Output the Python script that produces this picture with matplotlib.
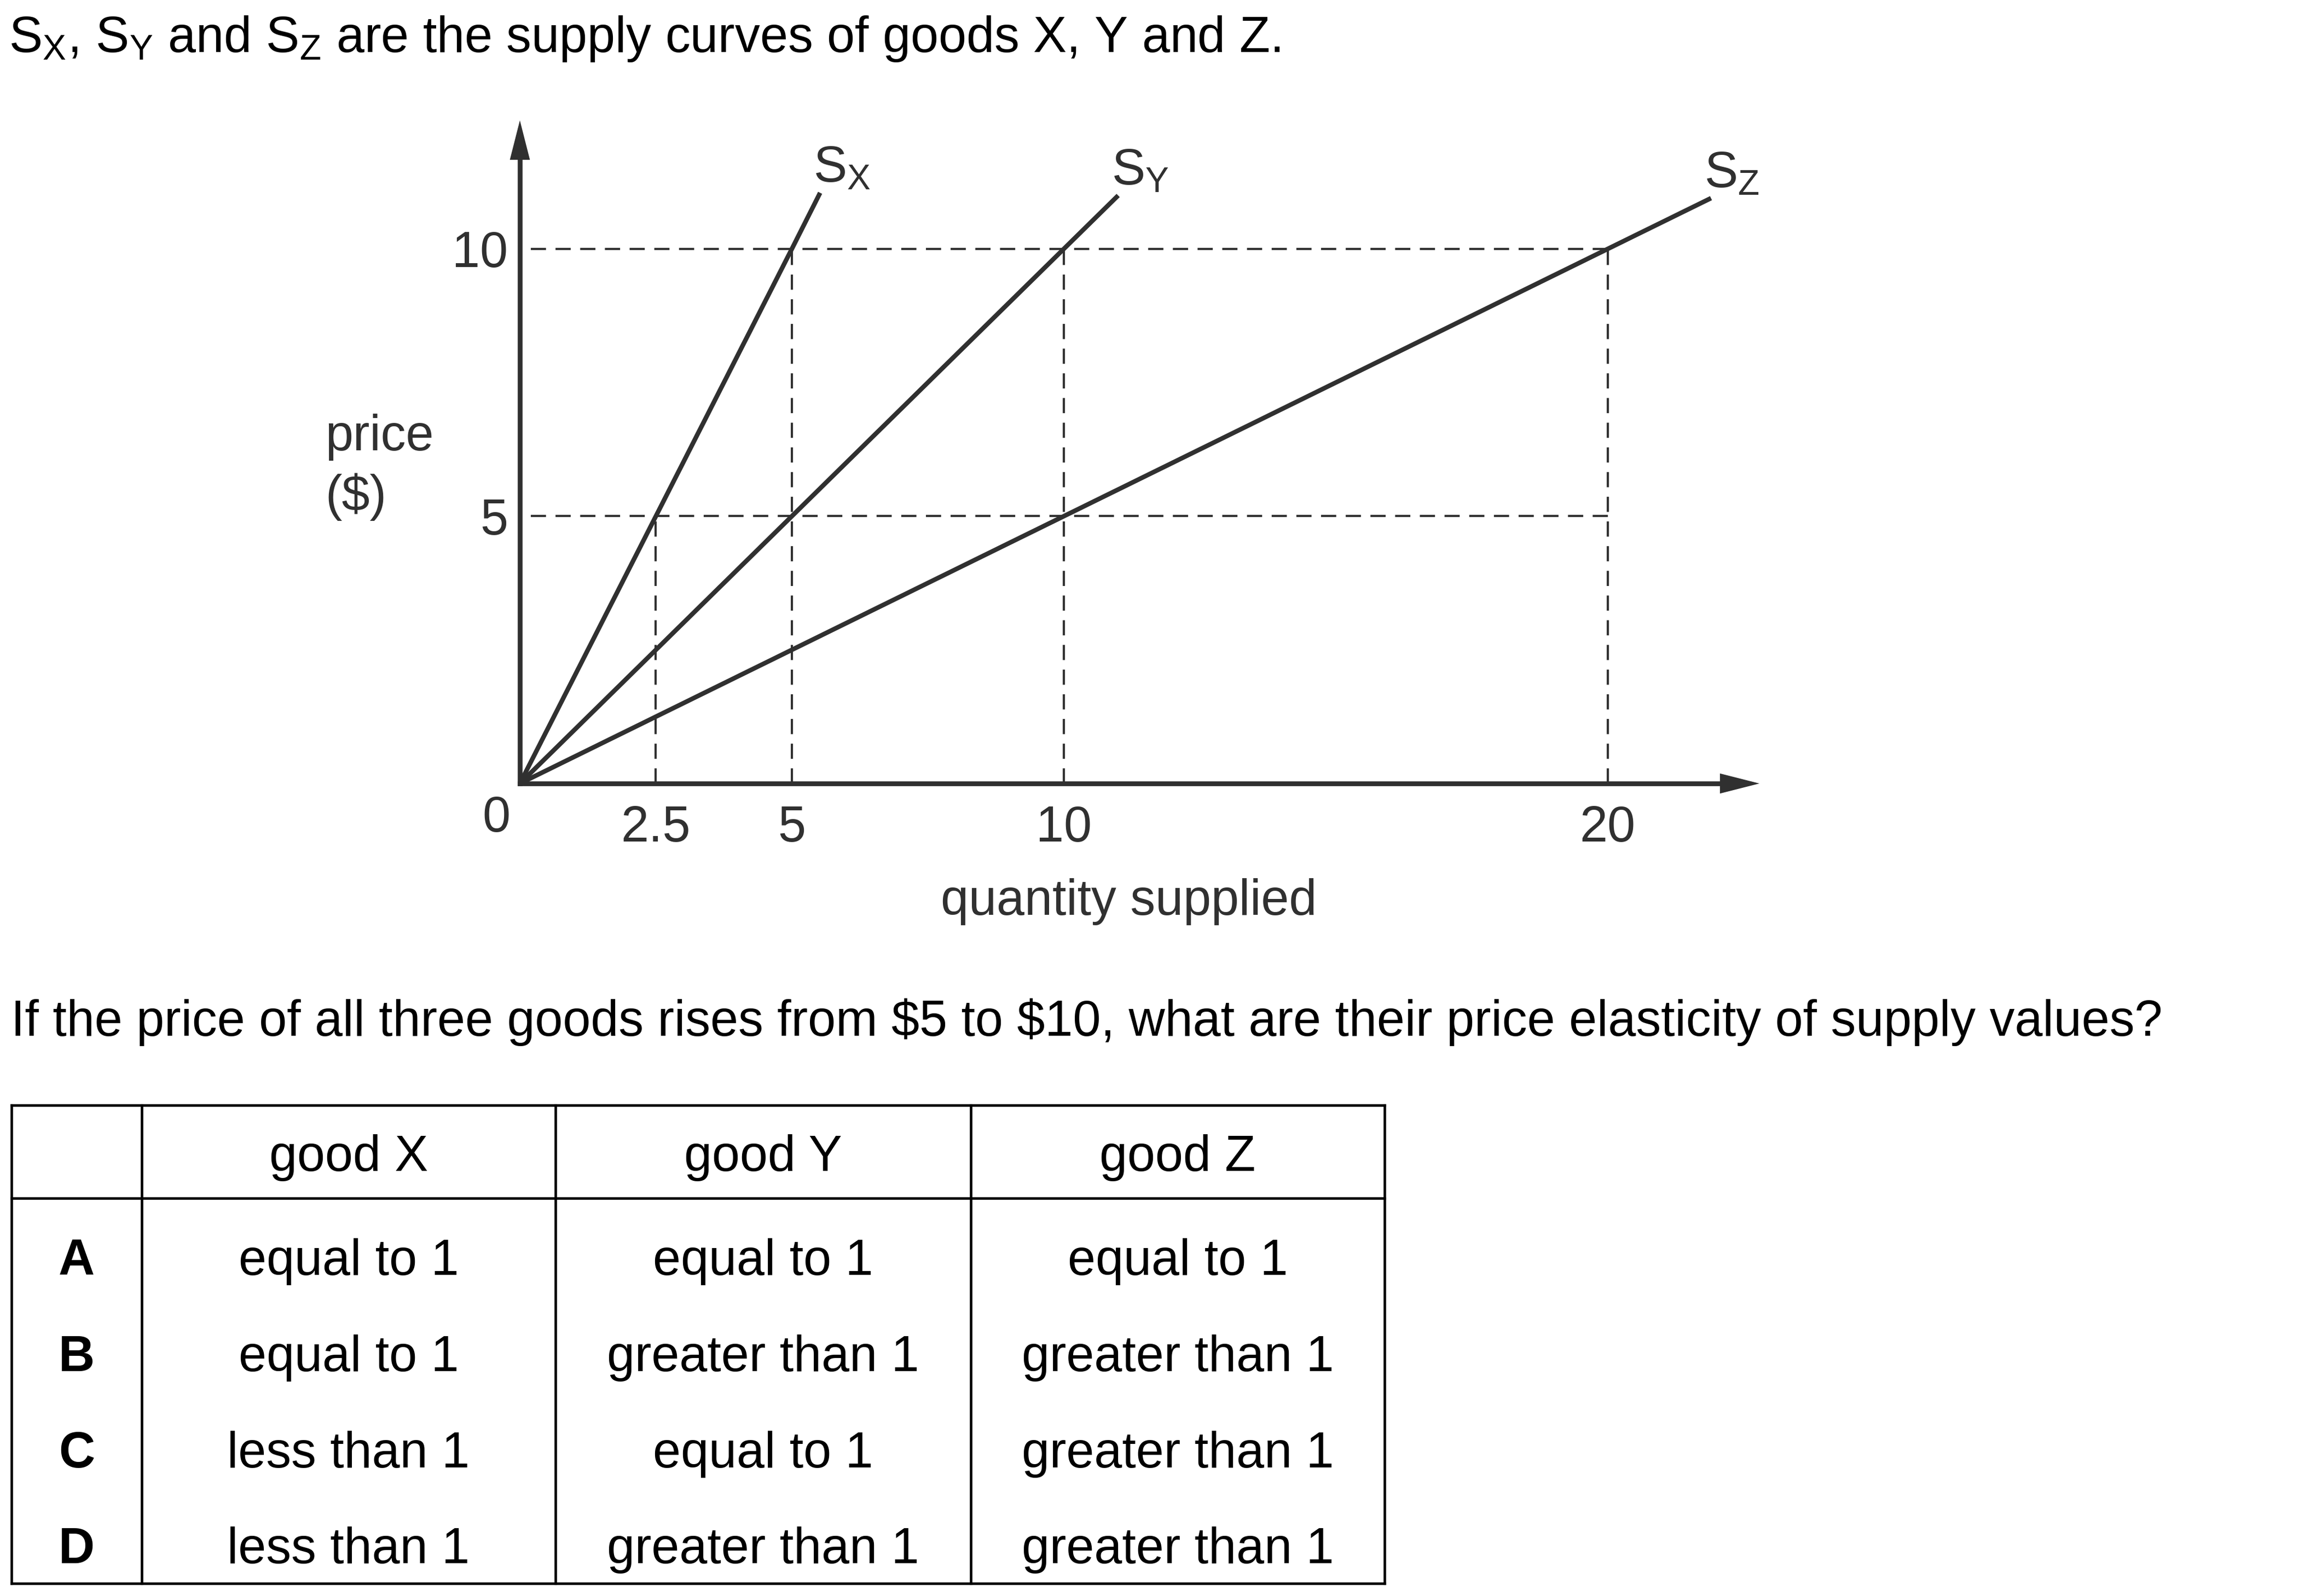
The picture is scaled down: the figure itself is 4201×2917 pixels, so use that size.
import matplotlib
matplotlib.use("Agg")
import matplotlib.pyplot as plt
from matplotlib.lines import Line2D

plt.rcParams['font.family'] = ['Liberation Sans', 'DejaVu Sans']
plt.rcParams['mathtext.default'] = 'regular'

W, H = 4201, 2917
DPI = 300
FS = 22.0
INK = '#303030'

# supply curves, (quantity, price)
sx_qty = [0, 2.5, 5, 5.52]
sx_price = [0, 5, 10, 11.05]
sy_qty = [0, 5, 10, 11]
sy_price = [0, 5, 10, 11]
sz_qty = [0, 10, 20, 21.9]
sz_price = [0, 5, 10, 10.95]
curve_names = ['X', 'Y', 'Z']

# dashed guide lines
guide_prices = [5, 10]
guide_qty = [2.5, 5, 10, 20]
guide_top = [5, 10, 10, 10]

x_ticks = [2.5, 5, 10, 20]
x_ticklabels = ['2.5', '5', '10', '20']
y_ticks = [5, 10]
y_ticklabels = ['5', '10']

# answer table
goods = ['good X', 'good Y', 'good Z']
options = ['A', 'B', 'C', 'D']
good_x = ['equal to 1', 'equal to 1', 'less than 1', 'less than 1']
good_y = ['equal to 1', 'greater than 1', 'equal to 1', 'greater than 1']
good_z = ['equal to 1', 'greater than 1', 'greater than 1', 'greater than 1']

title = '$S_X$, $S_Y$ and $S_Z$ are the supply curves of goods X, Y and Z.'
question = (r'If the price of all three goods rises from \$5 to \$10, '
            'what are their price elasticity of supply values?')

fig = plt.figure(figsize=(W / DPI, H / DPI), dpi=DPI)

# page axes in pixel units for the text and the table
page = fig.add_axes([0, 0, 1, 1])
page.set_xlim(0, W)
page.set_ylim(H, 0)
page.axis('off')

page.text(16, 95, title, fontsize=FS, color='black', va='baseline')
page.text(20, 1893, question, fontsize=FS, color='black', va='baseline')

# graph
x0, y0, x1, y1 = 950, 1432, 3215, 220
ax = fig.add_axes([x0 / W, 1 - y0 / H, (x1 - x0) / W, (y0 - y1) / H])
ax.patch.set_visible(False)
ax.set_xlim(0, 22.79)
ax.set_ylim(0, 12.405)

for side in ['top', 'right']:
    ax.spines[side].set_visible(False)
for side in ['left', 'bottom']:
    ax.spines[side].set_linewidth(2.1)
    ax.spines[side].set_color(INK)
ax.spines['bottom'].set_bounds(0, 22.3)
ax.spines['left'].set_bounds(0, 11.9)

head = dict(arrowstyle='-|>,head_length=17.3,head_width=4.4', mutation_scale=1,
            lw=0, color=INK, shrinkA=0, shrinkB=0)
ax.annotate('', xy=(1, 0), xycoords='axes fraction', xytext=(-30, 0),
            textcoords='offset points', arrowprops=head)
ax.annotate('', xy=(0, 1), xycoords='axes fraction', xytext=(0, -30),
            textcoords='offset points', arrowprops=head)

ax.set_xticks(x_ticks, x_ticklabels)
ax.set_yticks(y_ticks, y_ticklabels)
ax.tick_params(axis='both', length=0, labelsize=FS, labelcolor=INK)
ax.tick_params(axis='x', pad=9.4)
ax.tick_params(axis='y', pad=5.2)

dash = dict(color=INK, lw=0.95, dashes=(7, 4.4))
for p in guide_prices:
    ax.plot([0.2, max(guide_qty)], [p, p], **dash)
for q, top in zip(guide_qty, guide_top):
    ax.plot([q, q], [0, top], **dash)

curves = [(sx_qty, sx_price), (sy_qty, sy_price), (sz_qty, sz_price)]
for (q, p), name in zip(curves, curve_names):
    ax.plot(q, p, color=INK, lw=2.0, solid_capstyle='butt')
    ax.annotate(f'$S_{name}$', xy=(q[-1], p[-1]), xytext=(-3, 4.8),
                textcoords='offset points', fontsize=FS, color=INK,
                va='baseline', ha='left')

page.text(907, 1520, '0', fontsize=FS, color=INK, ha='center', va='baseline')
page.text(594, 823, 'price', fontsize=FS, color=INK, va='baseline')
page.text(594, 933, '($)', fontsize=FS, color=INK, va='baseline')
page.text(2063, 1672, 'quantity supplied', fontsize=FS, color=INK,
          ha='center', va='baseline')

# table
col_edges = [21, 259, 1015, 1774, 2530]
row_top, header_bottom, row_bottom = 2020, 2190, 2894
header_base = 2140
row_base = [2330, 2506, 2682, 2857]
tlw = 1.1

for x in col_edges:
    page.add_line(Line2D([x, x], [row_top, row_bottom], color='black', lw=tlw))
for y in [row_top, header_bottom, row_bottom]:
    page.add_line(Line2D([col_edges[0], col_edges[-1]], [y, y], color='black',
                         lw=tlw, solid_capstyle='projecting'))

centers = [(a + b) / 2 for a, b in zip(col_edges[:-1], col_edges[1:])]
for c, g in zip(centers[1:], goods):
    page.text(c, header_base, g, fontsize=FS, ha='center', va='baseline')
for i, opt in enumerate(options):
    yb = row_base[i]
    page.text(centers[0], yb, opt, fontsize=FS, ha='center', va='baseline',
              fontweight='bold')
    for c, col in zip(centers[1:], [good_x, good_y, good_z]):
        page.text(c, yb, col[i], fontsize=FS, ha='center', va='baseline')

fig.savefig('out.png', dpi=DPI)
